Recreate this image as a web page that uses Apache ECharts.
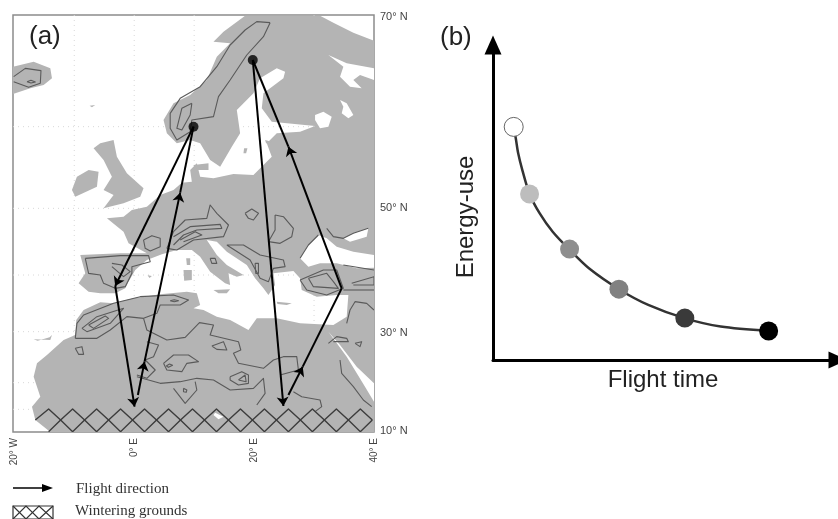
<!DOCTYPE html>
<html><head><meta charset="utf-8">
<style>html,body{margin:0;padding:0;background:#fff}#c{width:838px;height:519px;filter:blur(0.55px)}</style>
<script src="https://cdn.jsdelivr.net/npm/echarts@6/dist/echarts.min.js"></script>
</head><body><div id="c"></div>
<script>
// Panel (a): projected map coordinates [easting, southing]; 18 easting units per degree of longitude.
const lonTicks=[42,402,762,1122];
const lonLabels=['20° W','0° E','20° E','40° E'];
const latTicks=[51,625,998,1292];
const latLabels=['70° N','50° N','30° N','10° N'];
const gratLon=[222,402,582,942];
const gratLat=[380,625,825,995,1148,1228];

const mainland=[[735,47],[960,47],[1000,68],[1060,98],[1122,122],[1122,1296],[150,1296],[105,1260],[95,1220],[120,1190],[100,1130],[110,1090],[140,1065],[190,1020],[225,1005],[228,960],[250,930],[300,907],[340,910],[400,895],[480,883],[560,875],[590,880],[600,915],[580,925],[610,930],[650,950],[690,960],[745,990],[770,955],[830,955],[900,970],[1000,975],[1040,950],[1045,885],[1010,885],[950,890],[905,870],[900,835],[880,813],[820,820],[825,855],[805,885],[790,865],[765,835],[740,795],[680,755],[650,725],[620,720],[650,765],[680,795],[730,825],[710,830],[685,820],[690,855],[675,850],[630,815],[600,770],[575,750],[530,750],[485,763],[440,780],[405,810],[385,845],[375,865],[345,880],[300,880],[265,875],[235,850],[255,820],[240,765],[360,760],[440,760],[385,730],[370,695],[320,655],[370,650],[395,630],[440,620],[480,585],[520,570],[545,548],[575,545],[570,510],[590,490],[600,530],[640,535],[700,522],[760,525],[815,470],[800,430],[830,400],[900,395],[945,378],[815,365],[785,325],[790,280],[850,235],[855,215],[830,205],[780,235],[760,280],[710,330],[720,400],[695,440],[660,500],[630,480],[600,430],[570,420],[530,430],[500,400],[490,360],[520,310],[570,285],[620,240],[650,170],[690,130],[640,125],[670,95]];
const iceland=[[38,200],[100,185],[150,205],[155,235],[130,255],[90,265],[38,282]];
const britain=[[300,430],[340,420],[350,470],[380,520],[430,565],[420,590],[370,610],[310,625],[340,585],[310,570],[335,530],[310,480],[280,445]];
const ireland=[[265,510],[295,515],[290,560],[225,590],[215,570],[230,530]];
const corsica=[[558,775],[570,775],[570,795],[560,795]];
const sardinia=[[550,810],[575,810],[575,840],[552,842]];
const sicily=[[640,870],[690,868],[680,880],[655,880]];
const crete=[[830,905],[875,910],[860,915],[832,912]];
const balearic=[[442,826],[455,828],[448,834]];
const zealand=[[580,495],[625,490],[625,510],[590,510]];
const gotland=[[732,445],[742,445],[738,460],[730,460]];
const saaremaa=[[795,420],[815,425],[810,432],[798,430]];
const faroes=[[268,317],[285,315],[275,322]];
const canaries=[[100,1018],[112,1022],[148,1012],[155,1005],[150,1020]];
const landShapes=[mainland,iceland,britain,ireland,corsica,sardinia,sicily,crete,balearic,zealand,gotland,saaremaa,faroes,canaries];

const blackSea=[[900,775],[925,735],[955,705],[980,715],[1010,740],[1060,755],[1122,765],[1122,803],[1070,805],[1010,790],[960,790],[925,800]];
const azov=[[1030,715],[1060,700],[1105,685],[1100,710],[1050,725]];
const whiteSea=[[985,165],[1040,190],[1122,205],[1122,240],[1080,225],[1060,240],[1085,265],[1050,260],[1020,230],[1030,200]];
const ladoga=[[945,345],[970,335],[995,350],[985,380],[960,385],[945,360]];
const onega=[[1020,300],[1040,310],[1060,345],[1045,355],[1025,340],[1030,320]];
const redSea=[[985,995],[1020,1035],[1070,1100],[1122,1150],[1122,1205],[1095,1160],[1040,1070]];
const chad=[[645,1238],[670,1250],[655,1258],[640,1245]];
const seaShapes=[blackSea,azov,whiteSea,ladoga,onega,redSea,chad];

const contours=[
 [[810,68],[770,65],[735,90],[690,135],[650,200],[600,260],[540,295],[510,340],[510,385],[530,420],[570,395],[575,360],[640,350],[655,290],[690,240],[740,165],[790,110],[810,68]],
 [[575,310],[545,325],[530,385],[545,390],[570,345],[575,310]],
 [[40,230],[75,205],[122,212],[120,250],[85,262],[40,245]],
 [[80,245],[92,241],[105,246],[92,249],[80,245]],
 [[500,745],[520,695],[555,660],[620,655],[630,615],[650,640],[685,675],[670,710],[580,720],[530,750],[500,745]],
 [[520,710],[570,680],[660,673],[665,685],[590,690],[550,705],[520,735]],
 [[540,720],[585,695],[605,705],[550,725]],
 [[430,720],[455,707],[480,715],[480,740],[450,753],[435,745],[430,720]],
 [[735,640],[755,627],[775,640],[760,660],[745,655],[735,640]],
 [[825,645],[850,650],[880,685],[875,710],[840,730],[805,725],[825,690],[825,645]],
 [[680,735],[730,735],[780,765],[850,780],[855,800],[820,805],[805,845],[780,835],[750,780],[680,735]],
 [[630,775],[645,775],[650,790],[635,790],[630,775]],
 [[765,790],[775,790],[775,820],[767,820],[765,790]],
 [[255,775],[360,767],[445,767],[450,785],[395,800],[395,820],[375,860],[345,865],[310,850],[300,825],[265,820],[255,775]],
 [[335,790],[365,795],[390,815],[370,830],[335,800]],
 [[900,840],[970,810],[1010,810],[1030,865],[980,885],[920,870],[900,840]],
 [[925,835],[980,820],[1000,845],[1015,865],[940,860],[925,835]],
 [[1055,850],[1122,830],[1122,855],[1060,855]],
 [[1030,795],[1122,810]],
 [[1030,870],[1122,870]],
 [[225,1015],[230,970],[250,945],[340,910],[420,890],[520,885],[565,900],[540,915],[480,915],[470,940],[430,955],[380,950],[330,990],[290,1015],[225,1015]],
 [[245,985],[290,950],[370,925],[330,970],[260,995],[245,985]],
 [[265,975],[315,948],[325,955],[280,985],[265,975]],
 [[510,902],[522,899],[535,902],[522,905],[510,902]],
 [[430,955],[440,990],[500,1020],[555,1012],[598,968],[640,975],[630,1005],[715,1025],[722,1050],[700,1060],[715,1090],[790,1105],[820,1080],[850,1070],[890,1070],[895,1110],[840,1125]],
 [[410,1130],[480,1150],[540,1145],[590,1135],[640,1140],[690,1170],[760,1165],[790,1135],[795,1180],[770,1215]],
 [[440,1025],[475,1035],[460,1070],[435,1080],[465,1110],[440,1135],[410,1125]],
 [[520,1165],[555,1210],[590,1170],[585,1145]],
 [[490,1090],[520,1065],[565,1065],[595,1085],[560,1090],[545,1115],[500,1110],[490,1090]],
 [[498,1098],[508,1092],[517,1096],[505,1102],[498,1098]],
 [[690,1130],[725,1115],[745,1125],[745,1150],[715,1155],[690,1140],[690,1130]],
 [[715,1140],[735,1125],[738,1145],[715,1140]],
 [[225,1045],[245,1040],[250,1063],[235,1063],[225,1045]],
 [[635,1038],[670,1025],[680,1050],[650,1048],[635,1038]],
 [[550,1165],[560,1170],[558,1177],[550,1175],[550,1165]],
 [[880,1175],[905,1190],[960,1200],[965,1220],[945,1235]],
 [[1020,1080],[1025,1120],[1060,1160],[1090,1200],[1115,1220]],
 [[985,1030],[1010,1010],[1040,1015],[1045,1025],[1000,1025]],
 [[1065,1030],[1085,1025],[1080,1040],[1065,1030]],
 [[1040,970],[1050,930],[1065,905],[1100,910],[1122,930]],
 [[980,685],[1000,710],[1030,715],[1060,700],[1105,685]],
 [[900,775],[925,735],[955,705]]
];
const hatchUpper=[[105,1260],[145,1227],[181,1260],[217,1227],[253,1260],[289,1227],[325,1260],[361,1227],[397,1260],[433,1227],[469,1260],[505,1227],[541,1260],[577,1227],[613,1260],[649,1227],[685,1260],[721,1227],[757,1260],[793,1227],[829,1260],[865,1227],[901,1260],[937,1227],[973,1260],[1009,1227],[1045,1260],[1081,1227],[1117,1260]];
const hatchLower=[[145,1295],[181,1260],[217,1295],[253,1260],[289,1295],[325,1260],[361,1295],[397,1260],[433,1295],[469,1260],[505,1295],[541,1260],[577,1295],[613,1260],[649,1295],[685,1260],[721,1295],[757,1260],[793,1295],[829,1260],[865,1295],[901,1260],[937,1295],[973,1260],[1009,1295],[1045,1260],[1081,1295],[1117,1260]];
const flightHeaded=[
 [[580,380],[345,858]],[[345,858],[403,1220]],
 [[413,1185],[433,1085]],[[433,1085],[540,578]],
 [[758,180],[850,1218]],
 [[865,1185],[908,1100]],
 [[1025,865],[865,440]]
];
const flightPlain=[[[540,578],[580,380]],[[908,1100],[1025,865]],[[865,440],[758,180]]];
const breedingSites=[[580,380],[758,180]];

// Panel (b)
const curveTime=[6.0,6.6,7.3,8.5,10.6,13.5,17.3,22.1,27.8,36.6,45,55.7,66,80];
const curveEnergy=[74,70.4,65.6,60.3,52.7,46.6,40.7,35.1,29.1,22.4,17.5,13.2,10.6,9.2];
const flightTime=[6.0,10.6,22.2,36.5,55.6,79.9];
const energyUse=[74,52.7,35.2,22.5,13.3,9.2];
const dotColours=['#ffffff','#bdbdbd','#8e8e8e','#818181','#3a3a3a','#000000'];

function shapeSeries(shapes,fn,z){
  return {type:'custom',coordinateSystem:'cartesian2d',xAxisIndex:0,yAxisIndex:0,clip:true,silent:true,z:z,
    data:shapes.map((s,i)=>[s[0][0],s[0][1],i]),encode:{x:0,y:1},
    renderItem:(p,api)=>fn(shapes[p.dataIndex].map(q=>api.coord(q)))};
}
const fillPoly=c=>pts=>({type:'polygon',shape:{points:pts},style:{fill:c,stroke:null}});
const strokeLine=(c,w,d)=>pts=>({type:'polyline',shape:{points:pts},style:{fill:null,stroke:c,lineWidth:w,lineDash:d||null,lineJoin:'round'}});

const gratLines=[...gratLon.map(x=>[[x,45],[x,1296]]),...gratLat.map(y=>[[38,y],[1122,y]])];
const lonMap=Object.fromEntries(lonTicks.map((v,i)=>[v,lonLabels[i]]));
const latMap=Object.fromEntries(latTicks.map((v,i)=>[v,latLabels[i]]));

const chart=echarts.init(document.getElementById('c'),null,{renderer:'canvas'});
chart.setOption({
 animation:false,backgroundColor:'#fff',
 grid:[
  {left:13,top:15,width:361,height:417,show:true,borderColor:'#8c8c8c',borderWidth:1.5,backgroundColor:'transparent'},
  {left:493,top:45,width:349,height:315}
 ],
 xAxis:[
  {gridIndex:0,type:'value',min:38,max:1122,splitLine:{show:false},axisLine:{show:false},axisTick:{show:false},
   axisLabel:{customValues:lonTicks,rotate:90,margin:6,fontSize:10,color:'#444',fontFamily:'Liberation Sans',formatter:v=>lonMap[v]}},
  {gridIndex:1,type:'value',min:0,max:100,splitLine:{show:false},axisTick:{show:false},axisLabel:{show:false},
   axisLine:{lineStyle:{color:'#000',width:3},symbol:['none','triangle'],symbolSize:[17,19]}}
 ],
 yAxis:[
  {gridIndex:0,type:'value',min:45,max:1296,inverse:true,position:'right',splitLine:{show:false},axisLine:{show:false},axisTick:{show:false},
   axisLabel:{customValues:latTicks,margin:6,fontSize:11,color:'#444',fontFamily:'Liberation Sans',formatter:v=>latMap[v]}},
  {gridIndex:1,type:'value',min:0,max:100,splitLine:{show:false},axisTick:{show:false},axisLabel:{show:false},
   axisLine:{lineStyle:{color:'#000',width:3},symbol:['none','triangle'],symbolSize:[17,19]}}
 ],
 series:[
  shapeSeries(gratLines,strokeLine('#d8d8d8',1,[1,4]),1),
  shapeSeries(landShapes,fillPoly('#b4b4b4'),2),
  shapeSeries(seaShapes,fillPoly('#ffffff'),3),
  shapeSeries(contours,strokeLine('#5a5a5a',1.1),4),
  shapeSeries([hatchUpper,hatchLower],strokeLine('#3c3c3c',1.4),5),
  {type:'lines',coordinateSystem:'cartesian2d',xAxisIndex:0,yAxisIndex:0,z:6,silent:true,
   symbol:['none','arrow'],symbolSize:9,lineStyle:{color:'#000',width:2,opacity:1,curveness:0},
   data:flightHeaded.map(c=>({coords:c}))},
  {type:'lines',coordinateSystem:'cartesian2d',xAxisIndex:0,yAxisIndex:0,z:6,silent:true,
   symbol:['none','none'],lineStyle:{color:'#000',width:2,opacity:1,curveness:0},
   data:flightPlain.map(c=>({coords:c}))},
  {type:'scatter',xAxisIndex:0,yAxisIndex:0,z:7,silent:true,symbol:'circle',symbolSize:10,itemStyle:{color:'#000'},data:breedingSites},
  {type:'line',xAxisIndex:1,yAxisIndex:1,z:3,silent:true,smooth:0.3,showSymbol:false,symbol:'none',
   lineStyle:{color:'#333',width:2.5},data:curveTime.map((x,i)=>[x,curveEnergy[i]])},
  {type:'scatter',xAxisIndex:1,yAxisIndex:1,z:4,silent:true,symbol:'circle',symbolSize:19,
   data:flightTime.map((x,i)=>({value:[x,energyUse[i]],itemStyle:{color:dotColours[i],borderColor:i===0?'#666':dotColours[i],borderWidth:i===0?1:0,opacity:1}}))}
 ],
 graphic:[
  {type:'text',left:29,top:24,style:{text:'(a)',font:'26px "Liberation Sans"',fill:'#222'}},
  {type:'text',left:440,top:25,style:{text:'(b)',font:'26px "Liberation Sans"',fill:'#222'}},
  {type:'text',x:466,y:217,rotation:Math.PI/2,style:{text:'Energy-use',font:'24px "Liberation Sans"',fill:'#222',align:'center',verticalAlign:'middle'}},
  {type:'text',x:663,y:380,style:{text:'Flight time',font:'24px "Liberation Sans"',fill:'#222',align:'center',verticalAlign:'middle'}},
  {type:'text',left:76,top:482,style:{text:'Flight direction',font:'15px "Liberation Serif"',fill:'#333'}},
  {type:'text',left:75,top:504,style:{text:'Wintering grounds',font:'15px "Liberation Serif"',fill:'#333'}},
  {type:'line',shape:{x1:13,y1:488,x2:46,y2:488},style:{stroke:'#000',lineWidth:1.6}},
  {type:'polygon',shape:{points:[[42,484],[53,488],[42,492]]},style:{fill:'#000'}},
  {type:'rect',shape:{x:13,y:506,width:40,height:13},style:{fill:'#fff',stroke:'#333',lineWidth:1.2}},
  {type:'polyline',shape:{points:[[13,506],[26,519],[39,506],[53,519]]},style:{fill:null,stroke:'#333',lineWidth:1.2}},
  {type:'polyline',shape:{points:[[13,519],[26,506],[39,519],[53,506]]},style:{fill:null,stroke:'#333',lineWidth:1.2}}
 ]
});
</script></body></html>
